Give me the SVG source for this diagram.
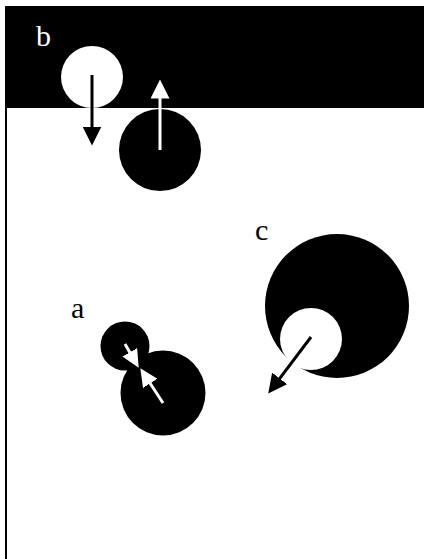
<svg xmlns="http://www.w3.org/2000/svg" width="424" height="559" viewBox="0 0 424 559">
  <style>
    .lbl { font-family: "Liberation Serif", "Times New Roman", serif; font-size: 30px; }
    .blk { fill: #000; }
    .wht { fill: #fff; }
    .ab { stroke: #000; stroke-width: 3; fill: none; }
    .aw { stroke: #fff; stroke-width: 3; fill: none; }
  </style>
  <defs>
    <marker id="hb" markerUnits="userSpaceOnUse" markerWidth="19" markerHeight="19" viewBox="0 0 19 19" refX="0.5" refY="9.5" orient="auto">
      <path d="M0,0 L19,9.5 L0,19 z" fill="#000"/>
    </marker>
    <marker id="hw" markerUnits="userSpaceOnUse" markerWidth="19" markerHeight="19" viewBox="0 0 19 19" refX="0.5" refY="9.5" orient="auto">
      <path d="M0,0 L19,9.5 L0,19 z" fill="#fff"/>
    </marker>
    <marker id="hws" markerUnits="userSpaceOnUse" markerWidth="18" markerHeight="17" viewBox="0 0 18 17" refX="0.5" refY="8.5" orient="auto">
      <path d="M0,0 L18,8.5 L0,17 z" fill="#fff"/>
    </marker>
  </defs>

  <!-- frame: dark band across the top and the left edge line -->
  <rect x="6" y="6" width="418" height="102" class="blk"/>
  <line x1="6" y1="6" x2="6" y2="559" stroke="#000" stroke-width="2"/>

  <g id="b">
    <text class="lbl wht" x="36" y="46">b</text>
    <circle cx="92" cy="77" r="31" class="wht"/>
    <circle cx="160" cy="150" r="41" class="blk"/>
  </g>

  <g id="a">
    <text class="lbl blk" x="71" y="318">a</text>
    <circle cx="125" cy="346" r="24.5" class="blk"/>
    <circle cx="163" cy="393" r="42.5" class="blk"/>
  </g>

  <g id="c">
    <text class="lbl blk" x="255" y="240">c</text>
    <circle cx="337" cy="306" r="72" class="blk"/>
    <circle cx="311" cy="339" r="31" class="wht"/>
  </g>

  <g id="connectors">
    <line x1="92" y1="75" x2="92" y2="127" class="ab" marker-end="url(#hb)"/>
    <line x1="160" y1="150" x2="160" y2="98" class="aw" marker-end="url(#hw)"/>
    <line x1="125" y1="344" x2="130" y2="352.7" class="aw" marker-end="url(#hws)"/>
    <line x1="163" y1="403" x2="149.9" y2="383" class="aw" marker-end="url(#hws)"/>
    <line x1="311" y1="337" x2="279.4" y2="378.8" class="ab" marker-end="url(#hb)"/>
  </g>
</svg>
